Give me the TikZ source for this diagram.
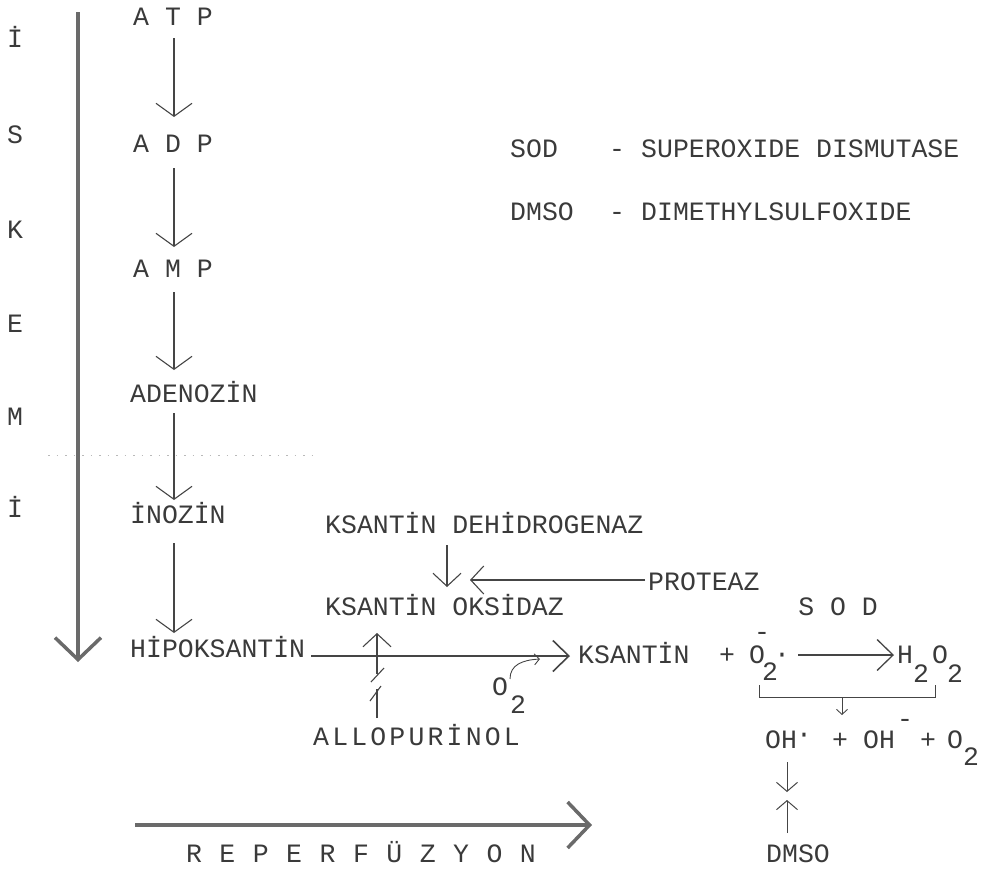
\documentclass[tikz,border=0pt]{standalone}
\usepackage{fontspec}
\setmainfont{Liberation Mono}
\newfontfamily\widefont[LetterSpace=12]{Liberation Mono}
\newfontfamily\midfont[LetterSpace=6]{Liberation Mono}
\usetikzlibrary{arrows.meta,calc}
\definecolor{txt}{HTML}{3A3A3A}
\definecolor{ln}{HTML}{454545}
\definecolor{thk}{HTML}{6A6A6A}
\begin{document}
\begin{tikzpicture}[x=1pt,y=-1pt,
  every node/.style={inner sep=0pt,text=txt,font=\fontsize{26.5}{30}\selectfont},
  lw/.style={anchor=base west},
  lc/.style={anchor=base},
  varr/.style={draw=ln,line width=1.1pt,-{Straight Barb[length=13pt,width=36pt]}},
  marr/.style={draw=ln,line width=1.1pt,-{Straight Barb[length=13pt,width=28pt]}},
  harr/.style={draw=ln,line width=1.6pt,-{Straight Barb[length=16pt,width=31pt]}},
  sarr/.style={draw=ln,line width=1pt,-{Straight Barb[length=9pt,width=21pt]}},
  tarr/.style={draw=thk,line width=3.5pt,-{Straight Barb[length=22pt,width=46pt]}},
  tiny/.style={draw=ln,line width=0.9pt,-{Straight Barb[length=5pt,width=11pt]}},
  plain/.style={draw=ln,line width=1.1pt},
]
\useasboundingbox (0,0) rectangle (985,870);

% left vertical word
\node[lc] (l1) at (15,47) {İ};
\node[lc] (l2) at (15,143) {S};
\node[lc] (l3) at (15,238) {K};
\node[lc] (l4) at (15,332) {E};
\node[lc] (l5) at (15,425) {M};
\node[lc] (l6) at (15,517) {İ};
\coordinate (isT) at (78,12);
\coordinate (isB) at (78,662);
\draw[tarr] (isT) -- (isB);

% dotted boundary
\draw[gray!55,line width=1pt,dash pattern=on 1.5pt off 7pt] (48,455) -- (312,455);

% column
\node[lw] (atp) at (133,25) {A T P};
\node[lw] (adp) at (133,152) {A D P};
\node[lw] (amp) at (133,277) {A M P};
\node[lw] (aden) at (130,402) {ADENOZİN};
\node[lw] (ino) at (130,523) {İNOZİN};
\node[lw] (hipo) at (130,657) {HİPOKSANTİN};
\coordinate (colx) at (174,0);
\draw[varr] ($(atp.base -| colx)+(0,13)$) -- ($(adp.base -| colx)+(0,-35)$);
\draw[varr] ($(adp.base -| colx)+(0,16)$) -- ($(amp.base -| colx)+(0,-30)$);
\draw[varr] ($(amp.base -| colx)+(0,15)$) -- ($(aden.base -| colx)+(0,-32)$);
\draw[varr] ($(aden.base -| colx)+(0,11)$) -- ($(ino.base -| colx)+(0,-23)$);
\draw[varr] ($(ino.base -| colx)+(0,20)$) -- ($(hipo.base -| colx)+(0,-24)$);

% legend
\node[lw] (sod) at (510,157) {SOD};
\node[lc] (sodd) at (617,157) {-};
\node[lw] (sodt) at (641,157) {SUPEROXIDE DISMUTASE};
\node[lw] (dmso) at (510,220) {DMSO};
\node[lc] (dmsod) at (617,220) {-};
\node[lw] (dmsot) at (641,220) {DIMETHYLSULFOXIDE};

% enzymes
\node[lw] (deh) at (325,533) {KSANTİN DEHİDROGENAZ};
\node[lw] (prot) at (648,590) {PROTEAZ};
\node[lw] (oks) at (325,615) {KSANTİN OKSİDAZ};
\draw[marr] ($(deh.base west)+(122,12)$) -- ($(oks.base west)+(122,-28)$);
\draw[marr] ($(prot.base west)+(-3,-10)$) -- ($(deh.base west)+(145,47)$);

% main reaction
\node[lw] (ks) at (578,663) {KSANTİN};
\node[lc] (pl1) at (727,663) {+};
\node[lc] (o2) at (757,663) {O};
\node[lc] (o2sub) at (770,680) {2};
\node[lc] (o2sup) at (762,640) {-};
\node[lc] (o2dot) at (782,662) {·};
\node[lc] (sodl) at (838,615) {S O D};
\node[lc] (h1) at (905,663) {H};
\node[lc] (h1s) at (921,682) {2};
\node[lc] (h2) at (940,663) {O};
\node[lc] (h2s) at (955,682) {2};
\draw[harr] ($(hipo.base east)+(6,-1)$) -- ($(ks.base west)+(-8,-7)$);
\draw[harr,line width=1.3pt] ($(o2dot.base)+(16,-7)$) -- ($(h1.base)+(-11,-8)$);

% allopurinol
\node[lw] (allo) at (313,745) {\widefont ALLOPURİNOL};
\draw[marr] ($(allo.base west)+(64,-71)$) -- ($(oks.base west)+(52,18)$);
\draw[plain] (371,682) -- (384,668);
\draw[plain] ($(allo.base west)+(64,-27)$) -- ($(allo.base west)+(64,-56)$);
\draw[plain] (370,701) -- (381,686);

% O2 curve
\node[lc] (ox) at (500,695) {O};
\node[lc] (oxs) at (518,713) {2};
\draw[tiny] ($(ox.base)+(10,-16)$) .. controls ($(ox.base)+(10,-30)$) and ($(ox.base)+(22,-35)$) .. ($(ox.base)+(40,-36)$);

% bracket
\draw[plain,line width=1pt] (759,685) -- (759,697) -- (935,697) -- (935,685);
\coordinate (brm) at (842,697);
\node[lw] (oh1) at (765,748) {OH};
\node[lc] (ohdot) at (804,742) {·};
\node[lc] (pl2) at (840,748) {+};
\node[lw] (oh2) at (863,748) {OH};
\node[lc] (ohm) at (905,727) {-};
\node[lc] (pl3) at (928,748) {+};
\node[lc] (o3) at (955,748) {O};
\node[lc] (o3s) at (971,765) {2};
\draw[tiny] (brm) -- ($(pl2.base)+(2,-33)$);

% DMSO
\node[lw] (dm2) at (766,862) {DMSO};
\draw[sarr] ($(oh1.base west)+(22,14)$) -- ($(oh1.base west)+(22,44)$);
\draw[sarr] ($(dm2.base west)+(21,-29)$) -- ($(dm2.base west)+(21,-62)$);

% reperfusion
\node[lc] (rep) at (361,862) {\midfont R E P E R F Ü Z Y O N};
\draw[tarr] ($(rep.base)+(-226,-37)$) -- ($(rep.base)+(231,-37)$);
\end{tikzpicture}
\end{document}
